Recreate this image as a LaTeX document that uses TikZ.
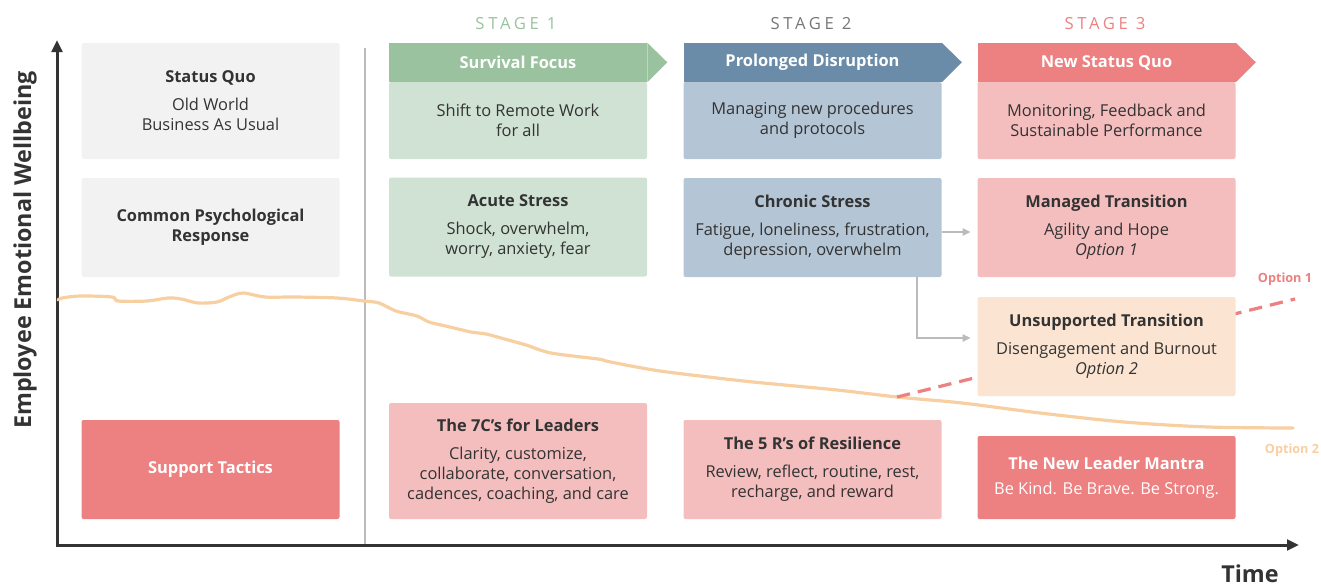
\documentclass[tikz,border=0pt]{standalone}
\usepackage{fontspec}
\setmainfont{Open Sans}
\newfontfamily\stagefont[LetterSpace=22]{Open Sans}
\usetikzlibrary{arrows.meta}
\definecolor{txt}{HTML}{333333}
\definecolor{axis}{HTML}{333333}
\definecolor{divider}{HTML}{BBBBBB}
\definecolor{greyfill}{HTML}{F2F2F2}
\definecolor{greenhead}{HTML}{9BC29E}
\definecolor{greenbody}{HTML}{CFE2D3}
\definecolor{bluehead}{HTML}{6A8CA8}
\definecolor{bluebody}{HTML}{B4C5D5}
\definecolor{redhead}{HTML}{ED8080}
\definecolor{redbody}{HTML}{F5BEBE}
\definecolor{peach}{HTML}{FBE5D2}
\definecolor{curve}{HTML}{F8CFA1}
\definecolor{stagegrey}{HTML}{777777}
\begin{document}
\begin{tikzpicture}[x=0.75pt,y=-0.75pt,
  box/.style={rectangle, rounded corners=1.5pt, inner sep=0pt, minimum width=193.5pt,
    align=center, text=txt, font=\fontsize{12.3}{15}\selectfont},
  head/.style={rectangle, inner sep=0pt, minimum width=193.5pt, minimum height=29.25pt,
    text=white, font=\fontsize{12.3}{15}\selectfont\bfseries},
  stagelabel/.style={font=\stagefont\fontsize{12.5}{14}\selectfont},
  conn/.style={draw=divider, line width=0.9pt, -{Triangle[length=6pt,width=5.5pt]}},
  optlabel/.style={font=\fontsize{9.5}{11}\selectfont\bfseries},
  axislabel/.style={font=\fontsize{17.5}{20}\selectfont\bfseries, text=txt}]
\useasboundingbox (0,0) rectangle (1321,586);

% axes
\coordinate (ytop) at (57,40);
\coordinate (orig) at (57,545);
\coordinate (xend) at (1299,545);
\draw[axis, line width=2.25pt, {Triangle[length=9pt,width=8pt]}-{Triangle[length=9pt,width=8pt]}]
  (ytop) -- (orig) -- (xend);
\coordinate (dtop) at (365,48);
\coordinate (dbot) at (365,544);
\draw[divider, line width=1.6pt] (dtop) -- (dbot);

\node[axislabel, rotate=90] (ylab) at (25,250) {Employee Emotional Wellbeing};
\node[axislabel] (time) at (1250,574) {Time};

% curve
\draw[curve, line width=2.4pt, line cap=round, line join=round]
  plot[smooth, tension=0.5] coordinates {(58,300)(62,298)(80,296)(112,297)(118,301)(147,301)(168,298)(181,299)(198,303)(217,302)(229,297)(243,293)(265,297)(295,297)(337,298)(364,301)(379,303)(396,311)(417,316)(429,322)(450,327)(471,332)(486,334)(501,338)(526,345)(551,353)(598,359)(606,361)(631,366)(660,371)(700,376)(753,382)(837,390)(897,397)(962,403)(1040,413)(1124,422)(1208,427)(1293,428)};
\coordinate (branch) at (897,397);
\coordinate (opt1end) at (1295,299);
\draw[redhead, line width=2.4pt, dash pattern=on 10pt off 6pt] (branch) -- (opt1end);

\node[optlabel, text=redhead] (opt1) at (1285,279) {Option 1};
\node[optlabel, text=curve] (opt2) at (1292,450) {Option 2};

% stage labels
\node[stagelabel, text=greenhead] (s1) at (516,24) {STAGE 1};
\node[stagelabel, text=stagegrey] (s2) at (811,24) {STAGE 2};
\node[stagelabel, text=redhead] (s3) at (1105,24) {STAGE 3};

% left column
\node[box, fill=greyfill, minimum height=87pt] (sq) at (210.5,101)
  {\textbf{Status Quo}\\[6pt]Old World\\Business As Usual};
\node[box, fill=greyfill, minimum height=74.25pt] (cpr) at (210.5,227.5)
  {\textbf{Common Psychological}\\\textbf{Response}};
\node[box, fill=redhead, text=white, minimum height=74.25pt] (st) at (210.5,469.5)
  {\textbf{Support Tactics}};

% stage 1
\node[head, fill=greenhead] (h1) at (518,62.5) {Survival Focus};
\fill[greenhead] (h1.north east) -- ++(20,19.5) -- (h1.south east) -- cycle;
\node[box, fill=greenbody, minimum height=57.75pt] (b1) at (518,120.5)
  {Shift to Remote Work\\for all};
\node[box, fill=greenbody, minimum height=74.25pt] (acute) at (518,227)
  {\textbf{Acute Stress}\\[6pt]Shock, overwhelm,\\worry, anxiety, fear};
\node[box, fill=redbody, minimum height=87pt] (c7) at (518,461)
  {\textbf{The 7C’s for Leaders}\\[6pt]Clarity, customize,\\collaborate, conversation,\\cadences, coaching, and care};

% stage 2
\node[head, fill=bluehead] (h2) at (812.5,62.5) {Prolonged Disruption};
\fill[bluehead] (h2.north east) -- ++(20,19.5) -- (h2.south east) -- cycle;
\node[box, fill=bluebody, minimum height=57.75pt] (b2) at (812.5,120.5)
  {Managing new procedures\\and protocols};
\node[box, fill=bluebody, minimum height=74.25pt] (chronic) at (812.5,227.5)
  {\textbf{Chronic Stress}\\[6pt]Fatigue, loneliness, frustration,\\depression, overwhelm};
\node[box, fill=redbody, minimum height=74.25pt] (r5) at (812.5,469.5)
  {\textbf{The 5 R’s of Resilience}\\[6pt]Review, reflect, routine, rest,\\recharge, and reward};

% stage 3
\node[head, fill=redhead] (h3) at (1106.5,62.5) {New Status Quo};
\fill[redhead] (h3.north east) -- ++(20,19.5) -- (h3.south east) -- cycle;
\node[box, fill=redbody, minimum height=57.75pt] (b3) at (1106.5,120.5)
  {Monitoring, Feedback and\\Sustainable Performance};
\node[box, fill=redbody, minimum height=74.25pt] (managed) at (1106.5,227.5)
  {\textbf{Managed Transition}\\[6pt]Agility and Hope\\\textit{Option 1}};
\node[box, fill=peach, minimum height=74.25pt] (unsup) at (1106.5,346.5)
  {\textbf{Unsupported Transition}\\[6pt]Disengagement and Burnout\\\textit{Option 2}};
\node[box, fill=redhead, text=white, minimum height=62.25pt] (mantra) at (1106.5,477.5)
  {\textbf{The New Leader Mantra}\\[4pt]Be Kind. Be Brave. Be Strong.};

% connectors
\coordinate (cbend) at (917,338);
\draw[conn, shorten >=5pt] (chronic.east |- 0,232) -- (managed.west |- 0,232);
\draw[conn, shorten >=5pt] (chronic.south -| cbend) -- (cbend) -- (unsup.west |- cbend);
\end{tikzpicture}
\end{document}
